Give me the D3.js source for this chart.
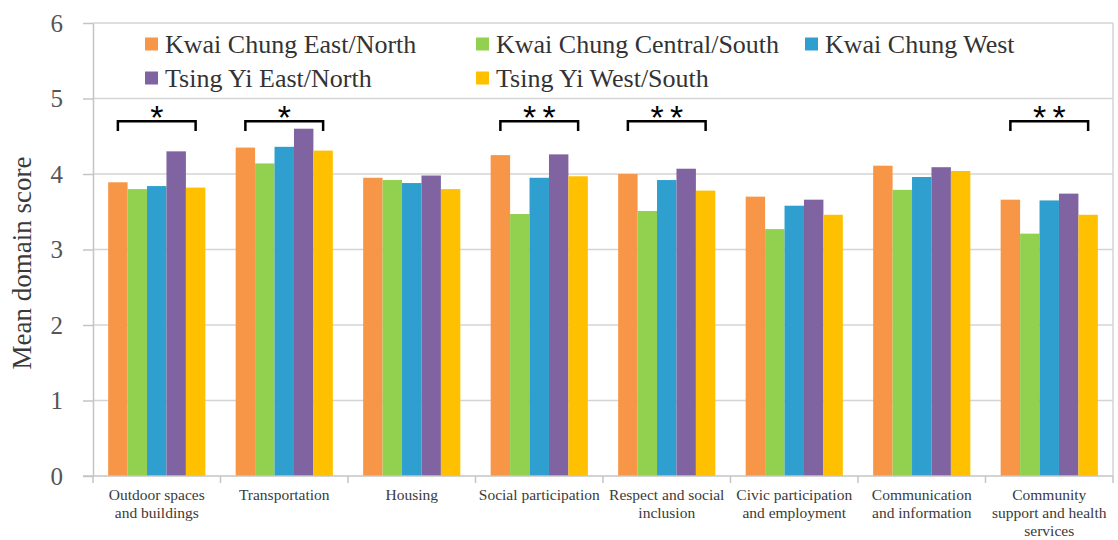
<!DOCTYPE html>
<html>
<head>
<meta charset="utf-8">
<script src="https://cdn.jsdelivr.net/npm/d3@7"></script>
<style>
  html, body { margin: 0; padding: 0; background: #fff; }
  svg { display: block; }
</style>
</head>
<body>
<svg id="chart" width="1118" height="540"></svg>
<script>
// Age-friendly city domains (x axis), label lines split with "\n"
const categories = [
  "Outdoor spaces\nand buildings",
  "Transportation",
  "Housing",
  "Social participation",
  "Respect and social\ninclusion",
  "Civic participation\nand employment",
  "Communication\nand information",
  "Community\nsupport and health\nservices"
];

const seriesNames = [
  "Kwai Chung East/North",
  "Kwai Chung Central/South",
  "Kwai Chung West",
  "Tsing Yi East/North",
  "Tsing Yi West/South"
];

// Mean domain scores per district
const kwaiChungEastNorth    = [3.89, 4.35, 3.95, 4.25, 4.00, 3.70, 4.11, 3.66];
const kwaiChungCentralSouth = [3.80, 4.14, 3.92, 3.47, 3.51, 3.27, 3.79, 3.21];
const kwaiChungWest         = [3.84, 4.36, 3.88, 3.95, 3.92, 3.58, 3.96, 3.65];
const tsingYiEastNorth      = [4.30, 4.60, 3.98, 4.26, 4.07, 3.66, 4.09, 3.74];
const tsingYiWestSouth      = [3.82, 4.31, 3.80, 3.97, 3.78, 3.46, 4.04, 3.46];

const yTicks = [0, 1, 2, 3, 4, 5, 6];

// Significance markers between districts
const sigCategories = [0, 1, 3, 4, 7];
const sigMarks = ["*", "*", "**", "**", "**"];

const seriesColors = ["#F79646", "#92D050", "#2E9FCF", "#8064A2", "#FFC000"];

const seriesValues = [kwaiChungEastNorth, kwaiChungCentralSouth, kwaiChungWest, tsingYiEastNorth, tsingYiWestSouth];

const svg = d3.select("#chart");
const plot = { left: 93, right: 1113, top: 23, bottom: 476 };

const x0 = d3.scaleBand().domain(d3.range(categories.length)).range([plot.left, plot.right]).padding(0);
const x1 = d3.scaleBand().domain(d3.range(seriesNames.length)).range([0, x0.bandwidth()])
  .paddingInner(0).paddingOuter(0.78);
const y = d3.scaleLinear().domain([0, 6]).range([plot.bottom, plot.top]);

const gridColor = "#d4d4d4";
const textColor = "#3a3a3a";
const serif = "'Liberation Serif', 'DejaVu Serif', serif";

// Horizontal gridlines
svg.append("g").selectAll("line").data(yTicks.filter(d => d > 0)).join("line")
  .attr("x1", plot.left).attr("x2", plot.right)
  .attr("y1", d => y(d)).attr("y2", d => y(d))
  .attr("stroke", gridColor).attr("stroke-width", 1.5);

// Right border of plot area
svg.append("line")
  .attr("x1", plot.right).attr("x2", plot.right)
  .attr("y1", plot.top).attr("y2", plot.bottom)
  .attr("stroke", gridColor).attr("stroke-width", 1.5);

// Bars
const groups = svg.append("g").selectAll("g").data(categories).join("g")
  .attr("transform", (d, i) => `translate(${x0(i)},0)`);
groups.selectAll("rect")
  .data((d, ci) => seriesValues.map((vals, si) => ({ si, v: vals[ci] })))
  .join("rect")
  .attr("x", d => x1(d.si))
  .attr("width", x1.bandwidth())
  .attr("y", d => y(d.v))
  .attr("height", d => y(0) - y(d.v))
  .attr("fill", d => seriesColors[d.si]);

// Y axis
const yAxis = svg.append("g").attr("transform", `translate(${plot.left},0)`)
  .call(d3.axisLeft(y).tickValues(yTicks).tickFormat(d3.format("d")).tickSizeInner(10).tickSizeOuter(0).tickPadding(20));
yAxis.attr("font-family", null).attr("font-size", null);
yAxis.select(".domain").attr("stroke", "#c4c4c4").attr("stroke-width", 1.5);
yAxis.selectAll(".tick line").attr("stroke", "#c4c4c4").attr("stroke-width", 1.5);
yAxis.selectAll(".tick text")
  .style("font-family", serif).style("font-size", "25px").attr("fill", "#555");

// X axis line with boundary ticks
const boundaries = d3.range(categories.length + 1).map(i => plot.left + i * x0.step());
svg.append("line")
  .attr("x1", plot.left - 10).attr("x2", plot.right)
  .attr("y1", plot.bottom).attr("y2", plot.bottom)
  .attr("stroke", "#c4c4c4").attr("stroke-width", 1.5);
svg.append("g").selectAll("line").data(boundaries).join("line")
  .attr("x1", d => d).attr("x2", d => d)
  .attr("y1", plot.bottom).attr("y2", plot.bottom + 7)
  .attr("stroke", "#c4c4c4").attr("stroke-width", 1.5);

// Category labels
const catLabels = svg.append("g").selectAll("text").data(categories).join("text")
  .attr("x", (d, i) => x0(i) + x0.bandwidth() / 2)
  .attr("y", 500)
  .attr("text-anchor", "middle")
  .style("font-family", serif).style("font-size", "15.5px").attr("fill", textColor);
catLabels.selectAll("tspan").data(d => d.split("\n")).join("tspan")
  .attr("x", function () { return d3.select(this.parentNode).attr("x"); })
  .attr("dy", (d, i) => i === 0 ? 0 : 18)
  .text(d => d);

// Y axis title
svg.append("text")
  .attr("transform", `translate(31,263) rotate(-90)`)
  .attr("text-anchor", "middle")
  .style("font-family", serif).style("font-size", "27px").attr("fill", textColor)
  .text("Mean domain score");

// Legend
const legendX = [145, 476, 805, 145, 476];
const legendY = [44, 44, 44, 78, 78];
const legend = svg.append("g").selectAll("g").data(seriesNames).join("g")
  .attr("transform", (d, i) => `translate(${legendX[i]},${legendY[i]})`);
legend.append("rect")
  .attr("x", 0).attr("y", -6.5).attr("width", 13).attr("height", 13)
  .attr("fill", (d, i) => seriesColors[i]);
legend.append("text")
  .attr("x", 20).attr("y", 0).attr("dy", "0.33em")
  .style("font-family", serif).style("font-size", "26px").attr("fill", "#333")
  .text(d => d);

// Significance brackets spanning first to last bar of a category
const bracketTop = y(4.7), bracketLeg = y(4.57);
const sig = svg.append("g").selectAll("g").data(sigCategories).join("g");
sig.append("path")
  .attr("d", ci => {
    const xa = x0(ci) + x1(0) + x1.bandwidth() / 2;
    const xb = x0(ci) + x1(seriesNames.length - 1) + x1.bandwidth() / 2;
    return `M${xa},${bracketLeg}V${bracketTop}H${xb}V${bracketLeg}`;
  })
  .attr("fill", "none").attr("stroke", "#000").attr("stroke-width", 2.5);
sig.each(function (ci, k) {
  const n = sigMarks[k].length;
  const cx = x0(ci) + x0.bandwidth() / 2;
  d3.select(this).selectAll("text").data(d3.range(n)).join("text")
    .attr("x", j => cx + (j - (n - 1) / 2) * 19.5)
    .attr("y", 129)
    .attr("text-anchor", "middle")
    .style("font-family", "'Liberation Sans', Arial, sans-serif")
    .style("font-size", "34px").attr("fill", "#000")
    .text("*");
});
</script>
</body>
</html>
